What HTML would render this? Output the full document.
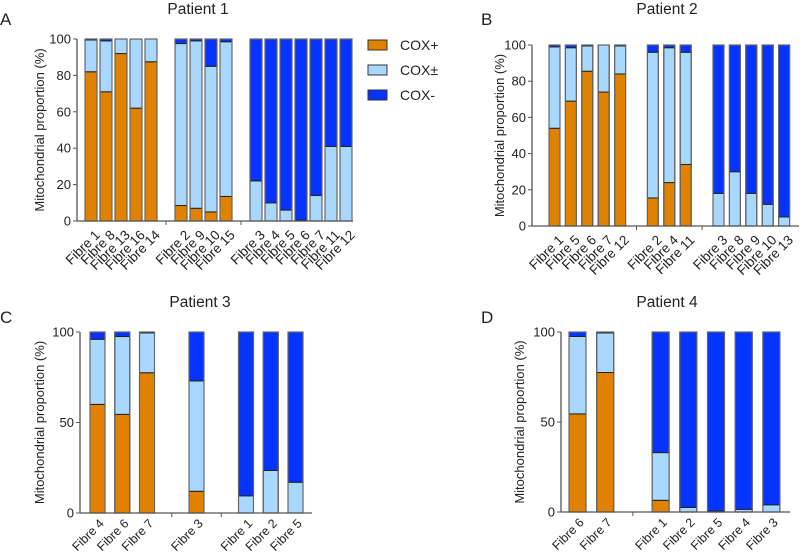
<!DOCTYPE html>
<html><head><meta charset="utf-8"><style>
body{margin:0;background:#fff;}
svg text{font-family:"Liberation Sans",Arial,sans-serif;fill:#222;}
</style></head><body>
<svg id="chart" width="800" height="553" viewBox="0 0 800 553" xmlns="http://www.w3.org/2000/svg">
<text x="198" y="14" font-size="15.5" text-anchor="middle">Patient 1</text>
<text x="0" y="25" font-size="17">A</text>
<text x="667" y="14" font-size="15.5" text-anchor="middle">Patient 2</text>
<text x="481" y="25" font-size="17">B</text>
<text x="200" y="307" font-size="15.5" text-anchor="middle">Patient 3</text>
<text x="0" y="323" font-size="17">C</text>
<text x="667" y="307" font-size="15.5" text-anchor="middle">Patient 4</text>
<text x="481" y="323" font-size="17">D</text>
<g>
<rect x="368" y="40" width="19" height="10" fill="#E08200" stroke="#333"/>
<text x="400" y="50" font-size="14">COX+</text>
<rect x="368" y="65" width="19" height="10" fill="#A8D8FF" stroke="#333"/>
<text x="400" y="75" font-size="14">COX±</text>
<rect x="368" y="90" width="19" height="10" fill="#0533FF" stroke="#333"/>
<text x="400" y="100" font-size="14">COX-</text>
</g>
</svg>
<script>
// Panel A (Patient 1): slot layout, null = gap
const catsA = ["Fibre 1","Fibre 8","Fibre 13","Fibre 16","Fibre 14",null,"Fibre 2","Fibre 9","Fibre 10","Fibre 15",null,"Fibre 3","Fibre 4","Fibre 5","Fibre 6","Fibre 7","Fibre 11","Fibre 12"];
const posA = [82,71,92,62,87.5,null,8.5,7,5,13.5,null,0,0,0,0,0,0,0];
const cumPmA = [99.5,99,100,100,100,null,97.5,99,85,98.5,null,22,10,6,0.5,14,41,41];
const ticksA = [0,20,40,60,80,100];
// Panel B (Patient 2)
const catsB = ["Fibre 1","Fibre 5","Fibre 6","Fibre 7","Fibre 12",null,"Fibre 2","Fibre 4","Fibre 11",null,"Fibre 3","Fibre 8","Fibre 9","Fibre 10","Fibre 13"];
const posB = [54,69,85.5,74,84,null,15.5,24,34,null,0,0,0,0,0];
const cumPmB = [99,98.5,99.5,100,99.5,null,96,98.5,96,null,18,30,18,12,5];
const ticksB = [0,20,40,60,80,100];
// Panel C (Patient 3)
const catsC = ["Fibre 4","Fibre 6","Fibre 7",null,"Fibre 3",null,"Fibre 1","Fibre 2","Fibre 5"];
const posC = [60,54.5,77.5,null,12,null,0,0,0];
const cumPmC = [96,97.5,99.5,null,73,null,9.5,23.5,17];
const ticksC = [0,50,100];
// Panel D (Patient 4)
const catsD = ["Fibre 6","Fibre 7",null,"Fibre 1","Fibre 2","Fibre 5","Fibre 4","Fibre 3"];
const posD = [54.5,77.5,null,6.5,0,0,0,0];
const cumPmD = [97.5,99.5,null,33,2.5,0.5,1.5,4];
const ticksD = [0,50,100];

const NS="http://www.w3.org/2000/svg";
const svg=document.getElementById('chart');
function mk(tag,attrs,parent){const e=document.createElementNS(NS,tag);for(const k in attrs)e.setAttribute(k,attrs[k]);(parent||svg).appendChild(e);return e;}

function panel(id,cats,pos,cum,ticks,L){
  const g=mk('g',{});
  
  
  const y=v=>L.y0-(v/100)*(L.y0-L.y1);
  const x=i=>L.x0+i*L.pitch;
  cats.forEach((c,i)=>{
    const bx=x(i);
    if(c===null){
      const t=mk('line',{x1:bx+L.bw/2,x2:bx+L.bw/2,y1:L.y0,y2:L.y0+4,stroke:'#555'},g);
      
      
      return;
    }
    const segs=[[0,pos[i],'#E08200','cox-plus'],[pos[i],cum[i],'#A8D8FF','cox-pm'],[cum[i],100,'#0533FF','cox-minus']];
    segs.forEach(s=>{
      if(s[1]-s[0]<=0)return;
      const r=mk('rect',{x:bx,y:y(s[1]),width:L.bw,height:y(s[0])-y(s[1]),fill:s[2],stroke:'#222','stroke-width':1},g);
      
      
    });
    const o=mk('rect',{x:bx,y:y(100),width:L.bw,height:y(0)-y(100),fill:'none',stroke:'#666','stroke-width':1.2},g);
    
    
    const cx=bx+L.bw/2+L.dx, cy=L.y0+L.dy;
    const t=mk('text',{x:cx,y:cy,'font-size':L.fs,'text-anchor':'end',transform:`rotate(-45 ${cx} ${cy})`,'dominant-baseline':'hanging'},g);
    t.textContent=c;
    
    
  });
  const ax=mk('line',{x1:L.ax,x2:L.ax,y1:y(100),y2:L.y0,stroke:'#555','stroke-width':1.3},g);
  
  
  const xa=mk('line',{x1:L.ax,x2:L.xe,y1:L.y0,y2:L.y0,stroke:'#555','stroke-width':1.3},g);
  
  
  ticks.forEach(v=>{
    const tl=mk('line',{x1:L.ax-4,x2:L.ax,y1:y(v),y2:y(v),stroke:'#555'},g);
    
    
    const tt=mk('text',{x:L.ax-6,y:y(v)+4.5,'font-size':13,'text-anchor':'end'},g);
    tt.textContent=v;
    
    
  });
  const my=(y(0)+y(100))/2;
  const yt=mk('text',{x:L.tx,y:my,'font-size':13,'text-anchor':'middle',transform:`rotate(-90 ${L.tx} ${my})`},g);
  yt.textContent='Mitochondrial proportion (%)';
  
  
}
panel('a',catsA,posA,cumPmA,ticksA,{x0:85,pitch:15,bw:12,y0:221,y1:39,ax:77,xe:353,tx:44,fs:13.5,dx:3,dy:8});
panel('b',catsB,posB,cumPmB,ticksB,{x0:549,pitch:16.4,bw:11,y0:226,y1:45,ax:532,xe:799,tx:504,fs:13.5,dx:3,dy:8});
panel('c',catsC,posC,cumPmC,ticksC,{x0:90,pitch:24.75,bw:15,y0:513,y1:332,ax:80,xe:312,tx:44,fs:12.5,dx:1,dy:5});
panel('d',catsD,posD,cumPmD,ticksD,{x0:569,pitch:27.7,bw:17,y0:512,y1:332,ax:561,xe:790,tx:524,fs:12.5,dx:1,dy:5});
</script>
</body></html>
